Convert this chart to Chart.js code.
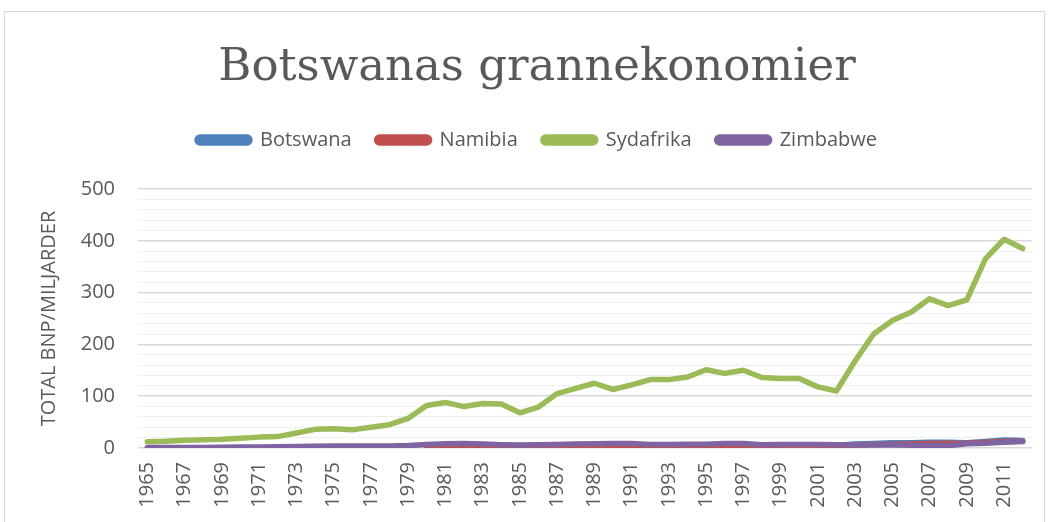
<!DOCTYPE html>
<html>
<head>
<meta charset="utf-8">
<script src="https://cdn.jsdelivr.net/npm/chart.js@4"></script>
<style>
  html, body { margin: 0; padding: 0; background: #ffffff; }
  #wrap { position: relative; width: 1050px; height: 522px; overflow: hidden; }
  #frame { position: absolute; left: 4px; top: 11px; width: 1041px; height: 520px; border: 1px solid #d9d9d9; box-sizing: border-box; }
  canvas { position: absolute; left: 0; top: 0; }
</style>
</head>
<body>
<div id="wrap">
  <div id="frame"></div>
  <canvas id="c" width="1050" height="522"></canvas>
</div>
<script>
const years = [];
for (let y = 1965; y <= 2012; y++) years.push(String(y));

const seriesNames = ["Botswana", "Namibia", "Sydafrika", "Zimbabwe"];
const seriesColors = ["#4f81bd", "#c0504d", "#9bbb59", "#8064a2"];

const botswana = [null, null, null, null, null, null, null, null, null, null,
  null, null, null, null, null,
  1.1, 1.0, 1.0, 1.1, 1.1, 1.0, 1.2, 1.6, 2.3, 2.6,
  3.8, 3.8, 4.1, 4.2, 4.4, 4.8, 4.8, 5.1, 4.9, 5.6,
  5.8, 5.5, 5.4, 7.5, 8.9, 9.9, 10.1, 10.9, 10.9, 10.3,
  12.8, 15.3, 14.4];

const namibia = [null, null, null, null, null, null, null, null, null, null,
  null, null, null, null, null,
  2.3, 2.2, 2.0, 1.8, 1.6, 1.4, 1.7, 2.1, 2.3, 2.5,
  2.7, 3.0, 3.3, 3.1, 3.6, 3.8, 3.9, 3.9, 3.6, 3.5,
  3.9, 3.5, 3.4, 4.9, 6.6, 7.3, 7.9, 8.8, 8.5, 9.0,
  11.3, 12.4, 13.0];

const sydafrika = [12, 13, 15, 16, 17, 19, 21, 22, 29, 36,
  37, 35, 40, 45, 57, 82, 88, 80, 86, 85,
  68, 79, 105, 115, 125, 113, 122, 132, 132, 137,
  151, 144, 150, 136, 134, 134, 118, 110, 168, 220,
  246, 262, 288, 275, 286, 365, 403, 385];

const zimbabwe = [1.0, 1.1, 1.2, 1.2, 1.5, 1.7, 2.0, 2.5, 3.0, 3.6,
  3.9, 3.9, 4.0, 4.0, 4.6, 6.7, 8.0, 8.5, 7.8, 6.4,
  5.6, 6.2, 6.7, 7.8, 8.3, 8.8, 8.6, 6.8, 6.6, 7.0,
  7.1, 8.6, 8.5, 6.4, 6.9, 6.7, 6.8, 6.3, 5.7, 5.8,
  5.8, 5.4, 5.3, 4.4, 8.2, 9.4, 10.9, 12.4];

const yTickLabels = ["0", "100", "200", "300", "400", "500"];

const allData = [botswana, namibia, sydafrika, zimbabwe];
const datasets = allData.map((d, i) => ({
  label: seriesNames[i],
  data: d,
  borderColor: seriesColors[i],
  backgroundColor: seriesColors[i],
  borderWidth: 5.5,
  pointRadius: 0,
  pointHoverRadius: 0,
  borderCapStyle: 'round',
  borderJoinStyle: 'round',
  fill: false,
  tension: 0,
  order: 4 - i
}));

const textColor = '#595959';

const legendGap = {
  id: 'legendGap',
  beforeLayout(chart) {
    const lg = chart.legend;
    if (lg && !lg._gapPatched) {
      const orig = lg.fit.bind(lg);
      lg.fit = function() { orig(); this.height += 29; };
      lg._gapPatched = true;
    }
  }
};

new Chart(document.getElementById('c'), {
  type: 'line',
  data: { labels: years, datasets: datasets },
  plugins: [legendGap],
  options: {
    responsive: false,
    animation: false,
    events: [],
    layout: { padding: { left: 42, right: 18, top: 0, bottom: 0 } },
    plugins: {
      title: {
        display: true,
        text: 'Botswanas grannekonomier',
        color: textColor,
        font: { family: '"DejaVu Serif"', size: 45, weight: 'normal', lineHeight: 1.2 },
        padding: { top: 41, bottom: 10 }
      },
      legend: {
        display: true,
        position: 'top',
        labels: {
          color: textColor,
          font: { family: '"Open Sans"', size: 20 },
          boxWidth: 53,
          boxHeight: 6,
          useBorderRadius: true,
          borderRadius: 3,
          padding: 25,
          sort: (a, b) => a.datasetIndex - b.datasetIndex
        }
      },
      tooltip: { enabled: false }
    },
    scales: {
      x: {
        type: 'category',
        offset: true,
        grid: { display: false, drawTicks: false },
        border: { display: false },
        ticks: {
          autoSkip: false,
          maxRotation: 90,
          minRotation: 90,
          padding: 14,
          color: textColor,
          font: { family: '"Open Sans"', size: 20 },
          callback: function(v, i) { return i % 2 === 0 ? years[i] : ''; }
        },
        afterFit: function(s) { s.height = 74; s.paddingRight = 0; s.paddingLeft = 0; }
      },
      y: {
        min: 0,
        max: 500,
        grid: {
          drawTicks: false,
          color: (ctx) => (ctx.tick && ctx.tick.value % 100 === 0) ? '#d9d9d9' : '#efefef',
          lineWidth: (ctx) => (ctx.tick && ctx.tick.value % 100 === 0) ? 1.5 : 1
        },
        border: { display: false },
        ticks: {
          stepSize: 20,
          autoSkip: false,
          padding: 23,
          color: textColor,
          font: { family: '"Open Sans"', size: 20 },
          callback: function(v) {
            return v % 100 === 0 ? yTickLabels[v / 100] : '';
          }
        },
        title: {
          display: true,
          text: 'TOTAL BNP/MILJARDER',
          color: textColor,
          font: { family: '"Open Sans"', size: 20, lineHeight: 1 },
          padding: { top: -3, bottom: 0 }
        },
        afterFit: function(s) { s.width = 96; }
      }
    }
  }
});
</script>
</body>
</html>
